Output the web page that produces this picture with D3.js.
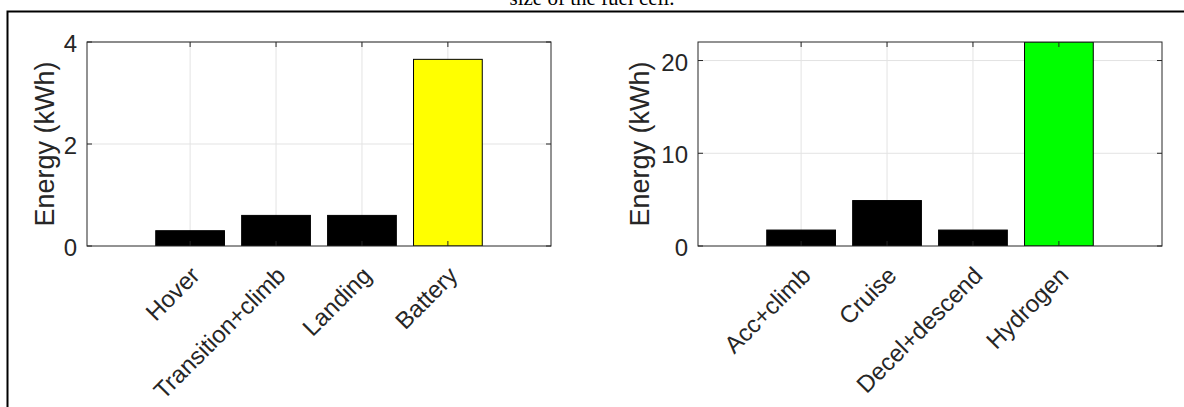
<!DOCTYPE html>
<html>
<head>
<meta charset="utf-8">
<script src="https://cdn.jsdelivr.net/npm/d3@7"></script>
<style>
body { margin: 0; background: #fff; }
svg { display: block; }
</style>
</head>
<body>
<script>
// data
var phasesA = ["Hover", "Transition+climb", "Landing", "Battery"];
var energyA = [0.30, 0.60, 0.60, 3.66];
var coloursA = ["#000", "#000", "#000", "#ffff00"];
var ticksA = [0, 2, 4];

var phasesB = ["Acc+climb", "Cruise", "Decel+descend", "Hydrogen"];
var energyB = [1.72, 4.9, 1.72, 22];
var coloursB = ["#000", "#000", "#000", "#00ff00"];
var ticksB = [0, 10, 20];

var W = 1184, H = 407;
var svg = d3.select("body").append("svg")
	.attr("width", W)
	.attr("height", H);

// cut-off caption + frame from the page it was taken from
svg.append("text")
	.attr("x", 592).attr("y", 5)
	.attr("text-anchor", "middle")
	.style("font-family", "Liberation Serif, serif")
	.style("font-size", "21px")
	.text("size of the fuel cell.");
svg.append("path")
	.attr("d", "M7.5," + H + "V11.5H" + W)
	.attr("fill", "none")
	.attr("stroke", "#000")
	.attr("stroke-width", 2);

var plotTop = 42, plotBottom = 246;
var font = "Liberation Sans, Arial, sans-serif";

function panel(left, right, cats, vals, cols, ticks, ymax, labelOff) {
	var g = svg.append("g");
	var x = d3.scaleLinear().domain([-0.2, 5.2]).range([left, right]);
	var y = d3.scaleLinear().domain([0, ymax]).range([plotBottom, plotTop]);
	var idx = cats.map(function(d, i) { return i + 1; });

	// grid
	g.selectAll(".gx").data(idx).enter().append("line")
		.attr("x1", function(d) { return x(d); }).attr("x2", function(d) { return x(d); })
		.attr("y1", plotTop).attr("y2", plotBottom)
		.attr("stroke", "#e3e3e3").attr("stroke-width", 1);
	g.selectAll(".gy").data(ticks.slice(1)).enter().append("line")
		.attr("x1", left).attr("x2", right)
		.attr("y1", function(d) { return y(d); }).attr("y2", function(d) { return y(d); })
		.attr("stroke", "#e3e3e3").attr("stroke-width", 1);

	// bars (clip so a bar taller than ylim stops at the box)
	var clipId = "clip" + left;
	g.append("clipPath").attr("id", clipId).append("rect")
		.attr("x", left).attr("y", plotTop).attr("width", right - left).attr("height", plotBottom - plotTop);
	g.append("g").attr("clip-path", "url(#" + clipId + ")")
		.selectAll("rect").data(vals).enter().append("rect")
		.attr("x", function(d, i) { return x(i + 1 - 0.4); })
		.attr("width", x(0.8) - x(0))
		.attr("y", function(d) { return y(d); })
		.attr("height", function(d) { return plotBottom - y(d); })
		.attr("fill", function(d, i) { return cols[i]; })
		.attr("stroke", "#000")
		.attr("stroke-width", 1);

	// tick marks inside box
	g.selectAll(".tb").data(idx).enter().append("path")
		.attr("d", function(d) { var xx = x(d); return "M" + xx + "," + plotBottom + "v-5M" + xx + "," + plotTop + "v5"; })
		.attr("stroke", "#262626");
	g.selectAll(".tl").data(ticks).enter().append("path")
		.attr("d", function(d) { var yy = y(d); return "M" + left + "," + yy + "h5M" + right + "," + yy + "h-5"; })
		.attr("stroke", "#262626");

	// box
	g.append("rect")
		.attr("x", left).attr("y", plotTop)
		.attr("width", right - left).attr("height", plotBottom - plotTop)
		.attr("fill", "none").attr("stroke", "#262626").attr("stroke-width", 1);

	// y tick labels
	g.selectAll(".yl").data(ticks).enter().append("text")
		.attr("x", left - 10)
		.attr("y", function(d) { return y(d) + 10; })
		.attr("text-anchor", "end")
		.style("font-family", font).style("font-size", "24px").style("fill", "#262626")
		.text(function(d) { return d; });

	// x labels rotated 45
	g.selectAll(".xl").data(cats).enter().append("text")
		.attr("transform", function(d, i) { return "translate(" + (x(i + 1) + 11) + "," + (plotBottom + 31) + ") rotate(-45)"; })
		.attr("text-anchor", "end")
		.style("font-family", font).style("font-size", "24px").style("fill", "#262626")
		.text(function(d) { return d; });

	// y label
	g.append("text")
		.attr("transform", "translate(" + (left - labelOff) + "," + ((plotTop + plotBottom) / 2) + ") rotate(-90)")
		.attr("text-anchor", "middle")
		.style("font-family", font).style("font-size", "27px").style("fill", "#262626")
		.text("Energy (kWh)");
}

panel(87, 551, phasesA, energyA, coloursA, ticksA, 4, 33);
panel(698, 1162, phasesB, energyB, coloursB, ticksB, 22, 49);
</script>
</body>
</html>
